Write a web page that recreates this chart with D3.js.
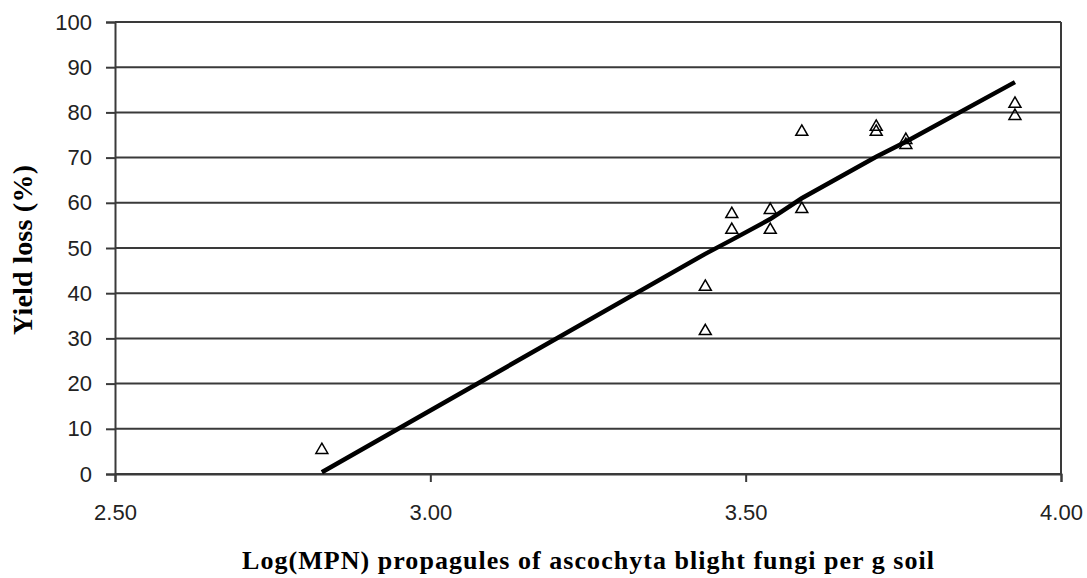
<!DOCTYPE html>
<html>
<head>
<meta charset="utf-8">
<script src="https://cdn.jsdelivr.net/npm/d3@7"></script>
<style>
  body { margin: 0; background: #fff; }
  svg { display: block; }
</style>
</head>
<body>
<svg width="1087" height="578"></svg>
<script>
// observed points: log(MPN) vs yield loss
const logMPN = [2.828, 3.436, 3.436, 3.478, 3.478, 3.539, 3.539, 3.589, 3.589, 3.707, 3.707, 3.754, 3.754, 3.927, 3.927];
const yieldLoss = [5.3, 41.4, 31.6, 57.5, 54.0, 58.4, 54.0, 75.7, 58.6, 76.8, 75.7, 73.9, 72.8, 81.9, 79.2];

// fitted line
const fitX = [2.828, 3.436, 3.478, 3.539, 3.589, 3.707, 3.754, 3.927];
const fitY = [0.4, 48.7, 51.8, 56.4, 61.0, 70.2, 73.5, 86.7];

const xTicks = [2.5, 3.0, 3.5, 4.0];
const yTicks = [0, 10, 20, 30, 40, 50, 60, 70, 80, 90, 100];

const svg = d3.select("svg");
const margin = { left: 115, right: 26, top: 22, bottom: 104 };
const width = 1087, height = 578;

const x = d3.scaleLinear().domain([2.5, 4.0]).range([margin.left, width - margin.right]);
const y = d3.scaleLinear().domain([0, 100]).range([height - margin.bottom, margin.top]);

const gridColor = "#3a3a3a";

// horizontal gridlines
svg.append("g")
    .selectAll("line")
    .data(yTicks)
    .enter().append("line")
    .attr("x1", x(2.5)).attr("x2", x(4.0))
    .attr("y1", d => y(d)).attr("y2", d => y(d))
    .attr("stroke", gridColor)
    .attr("stroke-width", 2);

// right border
svg.append("line")
    .attr("x1", x(4.0)).attr("x2", x(4.0))
    .attr("y1", y(100)).attr("y2", y(0))
    .attr("stroke", gridColor).attr("stroke-width", 2);

// y axis
const yAxis = svg.append("g")
    .attr("transform", `translate(${x(2.5)},0)`)
    .call(d3.axisLeft(y).tickValues(yTicks).tickSize(9).tickPadding(14).tickFormat(d3.format("d")));

// x axis
const xAxis = svg.append("g")
    .attr("transform", `translate(0,${y(0)})`)
    .call(d3.axisBottom(x).tickValues(xTicks).tickSize(8).tickPadding(22).tickFormat(d3.format(".2f")));

[yAxis, xAxis].forEach(a => {
    a.select(".domain").attr("stroke", gridColor).attr("stroke-width", 2);
    a.selectAll(".tick line").attr("stroke", gridColor).attr("stroke-width", 2);
    a.selectAll("text")
        .attr("fill", "#222")
        .style("font-family", "'Liberation Sans', Arial, sans-serif")
        .style("font-size", "22px");
});
xAxis.selectAll("text").attr("dy", "0.71em");

// fitted line
svg.append("path")
    .datum(fitX.map((d, i) => [d, fitY[i]]))
    .attr("fill", "none")
    .attr("stroke", "#000")
    .attr("stroke-width", 4.5)
    .attr("d", d3.line().x(d => x(d[0])).y(d => y(d[1])));

// triangle markers
const tri = d3.symbol().type(d3.symbolTriangle).size(62);
svg.append("g")
    .selectAll("path")
    .data(logMPN.map((d, i) => [d, yieldLoss[i]]))
    .enter().append("path")
    .attr("d", tri)
    .attr("transform", d => `translate(${x(d[0])},${y(d[1])})`)
    .attr("fill", "none")
    .attr("stroke", "#000")
    .attr("stroke-width", 1.5);

// axis titles
svg.append("text")
    .attr("x", (x(2.5) + x(4.0)) / 2)
    .attr("y", 569)
    .attr("text-anchor", "middle")
    .attr("textLength", 692)
    .attr("lengthAdjust", "spacing")
    .style("font-family", "'Liberation Serif', 'Times New Roman', serif")
    .style("font-weight", "bold")
    .style("font-size", "26px")
    .text("Log(MPN) propagules of ascochyta blight fungi per g soil");

svg.append("text")
    .attr("transform", `translate(32,${(y(0) + y(100)) / 2 + 2}) rotate(-90)`)
    .attr("text-anchor", "middle")
    .attr("textLength", 170)
    .attr("lengthAdjust", "spacing")
    .style("font-family", "'Liberation Serif', 'Times New Roman', serif")
    .style("font-weight", "bold")
    .style("font-size", "28px")
    .text("Yield loss (%)");
</script>
</body>
</html>
